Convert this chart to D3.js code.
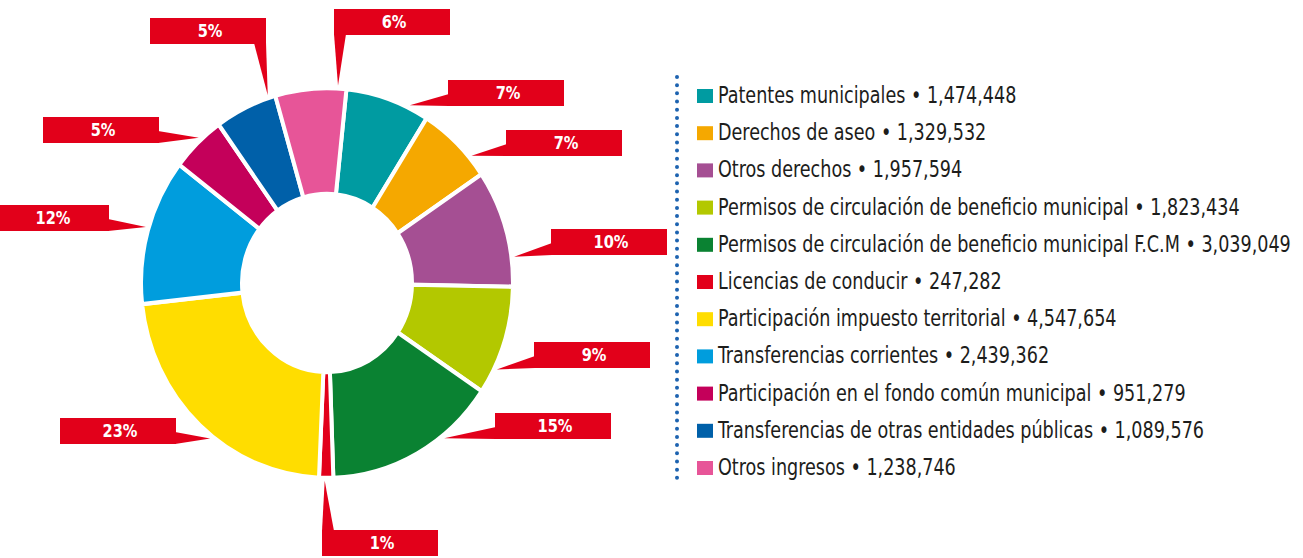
<!DOCTYPE html>
<html>
<head>
<meta charset="utf-8">
<script src="https://cdn.jsdelivr.net/npm/d3@7"></script>
<style>
    body { margin: 0; background: #fff; }
    svg { display: block; }
</style>
</head>
<body>
<script>
// data
var categories = [
    'Patentes municipales',
    'Derechos de aseo',
    'Otros derechos',
    'Permisos de circulación de beneficio municipal',
    'Permisos de circulación de beneficio municipal F.C.M',
    'Licencias de conducir',
    'Participación impuesto territorial',
    'Transferencias corrientes',
    'Participación en el fondo común municipal',
    'Transferencias de otras entidades públicas',
    'Otros ingresos'
];
var values = [1474448, 1329532, 1957594, 1823434, 3039049, 247282, 4547654, 2439362, 951279, 1089576, 1238746];
var colors = ['#009ba1', '#f5a800', '#a54f93', '#b3c800', '#0a8232', '#e2001a', '#ffdd00', '#009ddd', '#c4005a', '#0060a9', '#e75598'];

// callout boxes (left, top, side where the pointer leaves the box) and where on the slice the pointer lands
var calloutBoxes = [
    [448, 80, 'left'], [506, 130, 'left'], [551, 229, 'left'], [534, 342, 'left'],
    [495, 413, 'left'], [322, 530, 'top'], [60, 418, 'right'], [-7, 205, 'right'],
    [43, 117, 'right'], [150, 18, 'bottom-right'], [334, 9, 'bottom-left']
];
var calloutTipFrac = [0.76, 0.74, 0.75, 0.76, 0.33, 0.6, 0.44, 0.52, 0.58, 0.89, 0.88];

// init
var width  = 1303,
    height = 558,
    cx = 327, cy = 283,
    outerR = 186, innerR = 85,
    yStretch = 1.048,
    boxW = 116, boxH = 26,
    fontStack = '"Liberation Sans Narrow", "DejaVu Sans Condensed", "Roboto Condensed", "Liberation Sans", sans-serif';

var total = d3.sum(values);
var pct = d3.format('.0%');
var num = d3.format(',');

var svg = d3.select('body')
    .append('svg')
    .attr('width', width)
    .attr('height', height);

var pie = d3.pie().sort(null)
    .startAngle(6 * Math.PI / 180)
    .endAngle(6 * Math.PI / 180 + 2 * Math.PI);

var arcs = pie(values);

var arc = d3.arc().innerRadius(innerR).outerRadius(outerR);

// point on the outer edge of the (slightly stretched) ring
function edgePoint(angle, k) {
    return [cx + Math.sin(angle) * outerR * k, cy - Math.cos(angle) * outerR * k * yStretch];
}

/**
 * draw donut
 */
function drawDonut() {
    svg.append('g')
        .attr('transform', 'translate(' + cx + ',' + cy + ') scale(1,' + yStretch + ')')
        .selectAll('path')
        .data(arcs)
        .join('path')
        .attr('d', arc)
        .attr('fill', function (d, i) { return colors[i]; })
        .attr('stroke', '#fff')
        .attr('stroke-width', 4);
}

/**
 * draw red callouts with percentages
 */
function drawCallouts() {
    var g = svg.append('g');
    arcs.forEach(function (d, i) {
        var b = calloutBoxes[i];
        var bx = b[0], by = b[1], side = b[2];
        var a = d.startAngle + (d.endAngle - d.startAngle) * calloutTipFrac[i];
        var tip = edgePoint(a, 1.015);
        var base;
        if (side === 'left') base = [[bx + 1, by + boxH - 12], [bx + 1, by + boxH]];
        else if (side === 'right') base = [[bx + boxW - 1, by + boxH - 12], [bx + boxW - 1, by + boxH]];
        else if (side === 'bottom-left') base = [[bx, by + boxH - 1], [bx + 12, by + boxH - 1]];
        else if (side === 'bottom-right') base = [[bx + boxW - 12, by + boxH - 1], [bx + boxW, by + boxH - 1]];
        else base = [[bx, by + 1], [bx + 12, by + 1]];

        g.append('polygon')
            .attr('points', [base[0], tip, base[1]].map(function (p) { return p.join(','); }).join(' '))
            .attr('fill', '#e2001a');
        g.append('rect')
            .attr('x', bx).attr('y', by)
            .attr('width', boxW).attr('height', boxH)
            .attr('fill', '#e2001a');
        g.append('text')
            .attr('transform', 'translate(' + (bx + boxW / 2 + 2) + ',' + (by + 19) + ') scale(0.9,1)')
            .attr('text-anchor', 'middle')
            .attr('fill', '#fff')
            .attr('font-family', fontStack)
            .attr('font-weight', 'bold')
            .attr('font-size', 18)
            .text(pct(d.data / total));
    });
}

/**
 * draw legend with dotted divider
 */
function drawLegend() {
    svg.append('line')
        .attr('x1', 677).attr('x2', 677)
        .attr('y1', 77).attr('y2', 486)
        .attr('stroke', '#1d63b0')
        .attr('stroke-width', 4)
        .attr('stroke-linecap', 'round')
        .attr('stroke-dasharray', '0 8.18');

    var yScale = d3.scalePoint().domain(categories).range([103, 475]);

    var rows = svg.append('g')
        .selectAll('g')
        .data(categories)
        .join('g')
        .attr('transform', function (d) { return 'translate(697,' + yScale(d) + ')'; });

    rows.append('rect')
        .attr('x', 0).attr('y', -14)
        .attr('width', 16).attr('height', 14)
        .attr('fill', function (d, i) { return colors[i]; });

    // the source face is a condensed one, so squeeze the text horizontally
    rows.append('text')
        .attr('transform', 'translate(21,0) scale(0.85,1)')
        .attr('fill', '#1d1d1b')
        .attr('font-family', fontStack)
        .attr('font-size', 23)
        .text(function (d, i) { return d + ' \u2022 ' + num(values[i]); });
}

drawDonut();
drawCallouts();
drawLegend();
</script>
</body>
</html>
